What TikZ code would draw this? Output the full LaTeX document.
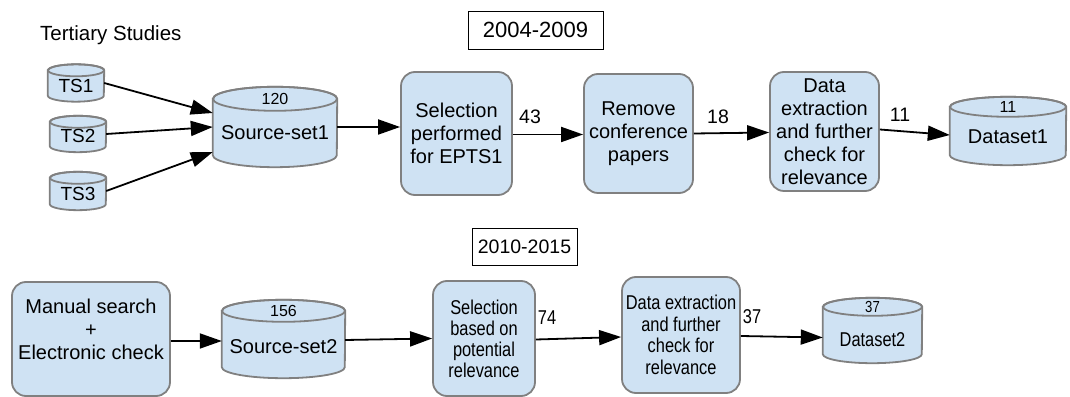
\documentclass[tikz,border=0pt]{standalone}
\usepackage{fontspec}
\setmainfont{Liberation Sans}
\newfontfamily\narrowsans[FakeStretch=0.82]{Liberation Sans}
\usetikzlibrary{arrows.meta,calc}
\definecolor{boxfill}{HTML}{CFE2F3}
\definecolor{boxline}{HTML}{808080}
\tikzset{
  procbox/.style={draw=boxline, fill=boxfill, line width=1.8pt, rounded corners=14pt,
    align=center, inner sep=0pt, font=\fontsize{20}{23}\selectfont},
  yearbox/.style={draw=black, fill=white, line width=0.9pt, inner sep=0pt,
    font=\fontsize{22}{25}\selectfont},
  dbbody/.style={inner sep=0pt, draw=none},
  dbline/.style={draw=boxline, line width=1.8pt},
  numtext/.style={font=\fontsize{16}{18}\selectfont, inner sep=0pt},
  dbtext/.style={font=\fontsize{20}{23}\selectfont, inner sep=0pt},
  flow/.style={line width=1.8pt, -{Triangle[length=22pt,width=15pt]}},
  countlabel/.style={font=\fontsize{19.5}{22}\selectfont, inner sep=0pt},
  plainlabel/.style={font=\fontsize{20.5}{23}\selectfont, inner sep=0pt},
}
% #1 name, #2 x, #3 y, #4 width, #5 height, #6 ry, #7 top number, #8 text, #9 text drop
\newcommand{\dbcyl}[9]{%
  \node[dbbody, minimum width=#4pt, minimum height=#5pt] (#1) at (#2,#3) {};
  \path[fill=boxfill, dbline] ($(#1.north west)+(0,-#6)$) -- ($(#1.south west)+(0,#6)$)
    arc[start angle=180, end angle=360, x radius=#4/2, y radius=#6]
    -- ($(#1.north east)+(0,-#6)$)
    arc[start angle=0, end angle=180, x radius=#4/2, y radius=#6] -- cycle;
  \draw[dbline] ($(#1.north)+(0,-#6)$) ellipse[x radius=#4/2, y radius=#6];
  \node[numtext] (#1-num) at ($(#1.north)+(0,-#6)$) {#7};
  \node[dbtext] (#1-txt) at ($(#1.center)+(0,-#9)$) {#8};
}
\begin{document}
\begin{tikzpicture}[x=1pt,y=1pt]
\useasboundingbox (0,0) rectangle (1070,396);

% ---- top row (2004-2009)
\node[plainlabel, anchor=west] (tslabel) at (40,361) {Tertiary Studies};
\node[yearbox, minimum width=135pt, minimum height=38pt] (year1) at (535.5,366) {2004-2009};

\dbcyl{ts1}{76}{313}{56}{37}{6}{}{\fontsize{19}{22}\selectfont TS1}{3}
\dbcyl{ts2}{78}{262}{56}{36}{6}{}{\fontsize{19}{22}\selectfont TS2}{2}
\dbcyl{ts3}{78}{205}{56}{38}{6}{}{\fontsize{19}{22}\selectfont TS3}{3}
\dbcyl{src1}{275}{269}{124}{80}{12}{120}{Source-set1}{6}

\node[procbox, minimum width=111pt, minimum height=123pt] (sel1) at (456.5,262.5)
  {Selection\\performed\\for EPTS1};
\node[procbox, minimum width=109pt, minimum height=119pt] (rem) at (638.5,262.5)
  {Remove\\conference\\papers};
\node[procbox, minimum width=109pt, minimum height=119pt] (data1) at (824.5,264.5)
  {Data\\extraction\\and further\\check for\\relevance};
\dbcyl{ds1}{1008}{265}{116}{68}{10}{11}{Dataset1}{6}

\draw[flow] (ts1.east) -- ([yshift=14pt]src1.west);
\draw[flow] (ts2.east) -- (src1.west);
\draw[flow] (ts3.east) -- ([yshift=-25pt]src1.west);
\draw[flow] (src1.east) -- (src1.east -| sel1.west);
\draw[flow] ([yshift=-1pt]sel1.east) -- ([yshift=-1pt]rem.west);
\draw[flow] (rem.east) -- ([yshift=-1pt]data1.west);
\draw[flow] ([yshift=2pt]data1.east) -- ([yshift=-4pt]ds1.west);

\node[countlabel] (n43) at (530,279) {43};
\node[countlabel] (n18) at (718,279) {18};
\node[countlabel] (n11) at (900,281) {11};

% ---- bottom row (2010-2015)
\node[yearbox, minimum width=105pt, minimum height=37pt, font=\fontsize{19.5}{22}\selectfont]
  (year2) at (524.5,149.5) {2010-2015};

\node[procbox, minimum width=158pt, minimum height=114pt] (manual) at (91,57)
  {Manual search\\+\\Electronic check\\[-4.5pt]\mbox{}};
\dbcyl{src2}{283.5}{57}{123}{78}{11}{156}{Source-set2}{8}
\node[procbox, minimum width=102pt, minimum height=115pt, font=\narrowsans\fontsize{20}{21}\selectfont]
  (sel2) at (484,57.5) {Selection\\based on\\potential\\relevance};
\node[procbox, minimum width=118pt, minimum height=116pt, font=\narrowsans\fontsize{20}{21.5}\selectfont]
  (data2) at (681,61) {Data extraction\\and further\\check for\\relevance};
\dbcyl{ds2}{872.5}{65.5}{99}{65}{9}{\narrowsans 37}{\narrowsans Dataset2}{9}

\draw[flow] ([yshift=-2pt]manual.east) -- ([yshift=-2pt]src2.west);
\draw[flow] ([yshift=-1pt]src2.east) -- (sel2.west);
\draw[flow] ([yshift=-1pt]sel2.east) -- ([yshift=-2pt]data2.west);
\draw[flow] ([yshift=-1pt]data2.east) -- ([yshift=-7pt]ds2.west);

\node[countlabel, font=\narrowsans\fontsize{20}{22}\selectfont] (n74) at (547,78) {74};
\node[countlabel, font=\narrowsans\fontsize{20}{22}\selectfont] (n37) at (752,79) {37};
\end{tikzpicture}
\end{document}
